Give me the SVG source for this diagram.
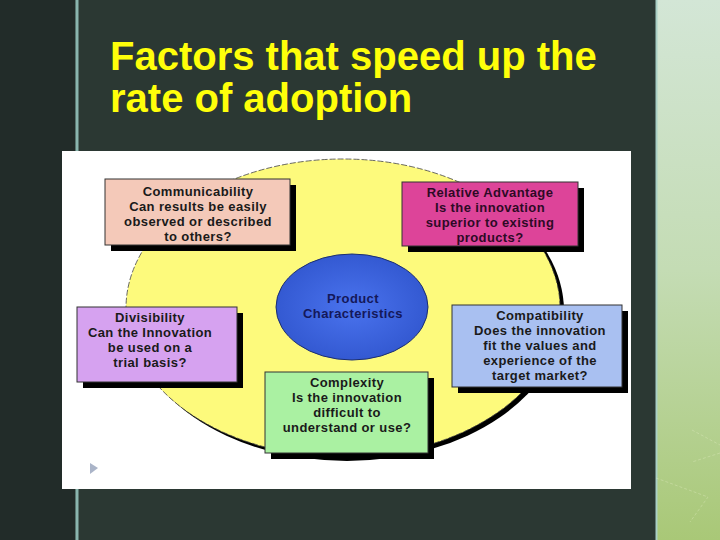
<svg xmlns="http://www.w3.org/2000/svg" width="720" height="540" viewBox="0 0 720 540">
<defs>
<linearGradient id="side" x1="0" y1="0" x2="0" y2="1">
<stop offset="0" stop-color="#d3e6d6"/>
<stop offset="0.5" stop-color="#c4dcb4"/>
<stop offset="1" stop-color="#a9c877"/>
</linearGradient>
<radialGradient id="blue" cx="0.5" cy="0.5" r="0.6">
<stop offset="0" stop-color="#4a73ee"/>
<stop offset="1" stop-color="#2f54cc"/>
</radialGradient>
<style>
.title{font-family:"Liberation Sans",Arial,sans-serif;font-weight:bold;font-size:40px;fill:#ffff0a}
.box{stroke:#333;stroke-width:1}
.shadow{fill:#000}
.t{font-family:"Liberation Sans",Arial,sans-serif;font-weight:bold;font-size:13px;fill:#1a1a1a;text-anchor:middle;letter-spacing:0.4px}
</style>
</defs>
<rect x="0" y="0" width="720" height="540" fill="#2b3833"/>
<rect x="0" y="0" width="75" height="540" fill="#222c29"/>
<rect x="75.5" y="0" width="3" height="540" fill="#8ab5ae"/>
<rect x="656" y="0" width="64" height="540" fill="url(#side)"/>
<rect x="655.5" y="0" width="2" height="540" fill="#a9cfc6"/>
<g opacity="0.3" fill="none" stroke="#eef5d0" stroke-width="1" stroke-dasharray="3,2">
<polyline points="692,430 720,445"/>
<polyline points="720,453 692,462"/>
<polyline points="656,478 708,497 690,522"/>
</g>

<g id="title">
<text class="title" x="110" y="70">Factors that speed up the</text>
<text class="title" x="110" y="112">rate of adoption</text>
</g>

<rect x="62" y="151" width="569" height="338" fill="#ffffff"/>

<g id="outer">
<ellipse cx="347" cy="311" rx="217" ry="150" fill="#000"/>
<ellipse cx="343" cy="308" rx="217" ry="149" fill="#fdfa7c" stroke="#444" stroke-width="0.8" stroke-dasharray="6,2"/>
</g>

<g id="center">
<ellipse cx="352" cy="307" rx="76" ry="53" fill="url(#blue)" stroke="#1c2f70" stroke-width="1"/>
<text class="t" x="353" y="303" style="fill:#14185a">Product</text>
<text class="t" x="353" y="318" style="fill:#14185a">Characteristics</text>
</g>

<g id="communicability">
<rect class="shadow" x="111" y="185" width="185" height="66"/>
<rect class="box" x="105" y="179" width="185" height="66" fill="#f4c9b9"/>
<text class="t" x="198" y="196">Communicability</text>
<text class="t" x="198" y="211">Can results be easily</text>
<text class="t" x="198" y="226">observed or described</text>
<text class="t" x="198" y="241">to others?</text>
</g>

<g id="relative">
<rect class="shadow" x="408" y="188" width="176" height="64"/>
<rect class="box" x="402" y="182" width="176" height="64" fill="#dd4499"/>
<text class="t" x="490" y="197" style="fill:#2e0a26">Relative Advantage</text>
<text class="t" x="490" y="212" style="fill:#2e0a26">Is the innovation</text>
<text class="t" x="490" y="227" style="fill:#2e0a26">superior to existing</text>
<text class="t" x="490" y="242" style="fill:#2e0a26">products?</text>
</g>

<g id="divisibility">
<rect class="shadow" x="83" y="313" width="160" height="75"/>
<rect class="box" x="77" y="307" width="160" height="75" fill="#d6a2f0"/>
<text class="t" x="150" y="322">Divisibility</text>
<text class="t" x="150" y="337">Can the Innovation</text>
<text class="t" x="150" y="352">be used on a</text>
<text class="t" x="150" y="367">trial basis?</text>
</g>

<g id="compatibility">
<rect class="shadow" x="458" y="311" width="170" height="82"/>
<rect class="box" x="452" y="305" width="170" height="82" fill="#a9c0f1"/>
<text class="t" x="540" y="320">Compatibility</text>
<text class="t" x="540" y="335">Does the innovation</text>
<text class="t" x="540" y="350">fit the values and</text>
<text class="t" x="540" y="365">experience of the</text>
<text class="t" x="540" y="380">target market?</text>
</g>

<g id="complexity">
<rect class="shadow" x="271" y="378" width="163" height="81"/>
<rect class="box" x="265" y="372" width="163" height="81" fill="#aaf1a2"/>
<text class="t" x="347" y="387">Complexity</text>
<text class="t" x="347" y="402">Is the innovation</text>
<text class="t" x="347" y="417">difficult to</text>
<text class="t" x="347" y="432">understand or use?</text>
</g>

<polygon points="90,463 98,468 90,474" fill="#aab4c8"/>
</svg>
